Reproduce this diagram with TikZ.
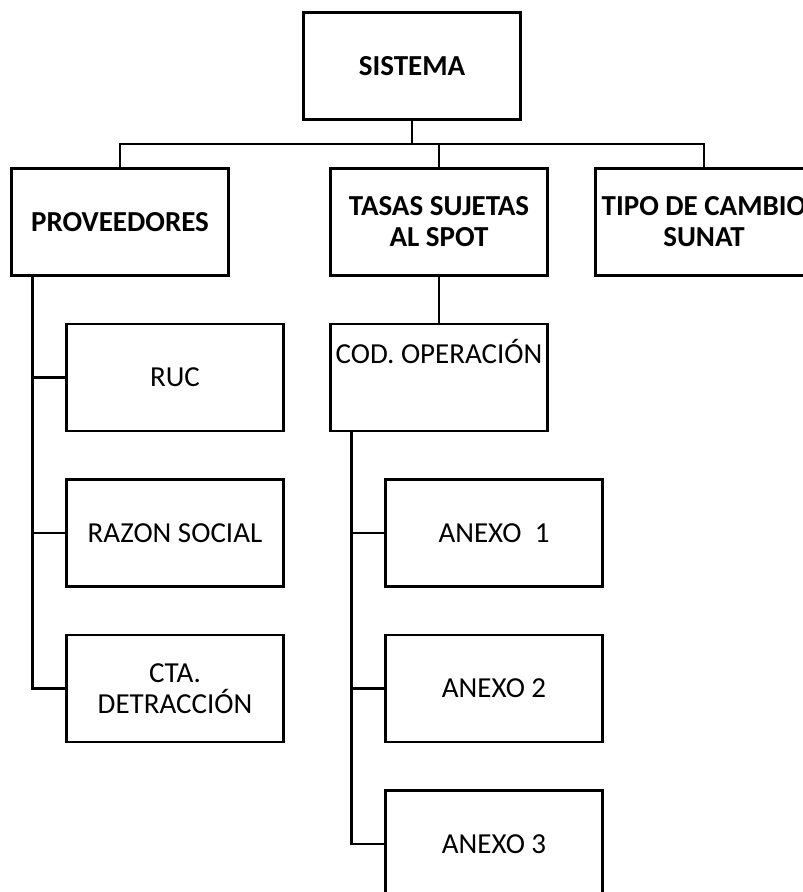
\documentclass[tikz,border=0pt]{standalone}
\usepackage{fontspec}
\setmainfont{Carlito}
\usetikzlibrary{calc}
\tikzset{
  box/.style={draw, line width=2.8pt, minimum width=\Dx pt, minimum height=\Dy pt,
    inner sep=0pt, align=center, font=\fontsize{29}{31}\selectfont},
  headbox/.style={box, font=\fontsize{29}{31}\selectfont\bfseries},
  link/.style={line width=2.8pt}
}

\begin{document}
\begin{tikzpicture}[x=1pt, y=-1pt]
  % Size
  \pgfmathsetmacro{\Dx}{217}
  \pgfmathsetmacro{\Dy}{107}

  % Positioning
  \pgfmathsetmacro{\dy}{155.5}
  \pgfmathsetmacro{\epsilon}{22}

  \useasboundingbox (0, 0) rectangle (803, 892);
  \clip (0, 0) rectangle (803, 892);

  \node[headbox] (sistema) at (412, 66) {SISTEMA};

  \node[headbox] (proveedores) at (120, 222) {PROVEEDORES};
  \node[headbox] (tasas) at (439, 222) {TASAS SUJETAS\\AL SPOT};
  \node[headbox] (tipocambio) at (704, 222) {TIPO DE CAMBIO\\SUNAT};

  \node[box] (ruc) at (175, 222 + \dy) {RUC};
  \node[box] (razon) at (175, 222 + 2 * \dy) {RAZON SOCIAL};
  \node[box] (cta) at (175, 222 + 3 * \dy) {CTA.\\DETRACCIÓN};

  \node[box, text height=20pt, text depth=48pt] (codop) at (439, 222 + \dy) {COD. OPERACIÓN};
  \node[box] (anexo1) at (494, 222 + 2 * \dy) {ANEXO~~1};
  \node[box] (anexo2) at (494, 222 + 3 * \dy) {ANEXO 2};
  \node[box] (anexo3) at (494, 222 + 4 * \dy) {ANEXO 3};

  % Top level
  \coordinate (bus) at (412, 144);
  \draw[link] (sistema.south) -- (bus);
  \draw[link] (bus) -| (proveedores.north);
  \draw[link] (bus) -| (tipocambio.north);
  \draw[link] (bus -| tasas.north) -- (tasas.north);

  % Proveedores
  \coordinate (pspine) at ($(proveedores.south west) + (\epsilon, 0)$);
  \draw[link] (pspine) |- (cta.west);
  \draw[link] (pspine |- ruc.west) -- (ruc.west);
  \draw[link] (pspine |- razon.west) -- (razon.west);

  % Tasas
  \draw[link] (tasas.south) -- (codop.north);
  \coordinate (cspine) at ($(codop.south west) + (\epsilon, 0)$);
  \draw[link] (cspine) |- (anexo3.west);
  \draw[link] (cspine |- anexo1.west) -- (anexo1.west);
  \draw[link] (cspine |- anexo2.west) -- (anexo2.west);
\end{tikzpicture}
\end{document}
